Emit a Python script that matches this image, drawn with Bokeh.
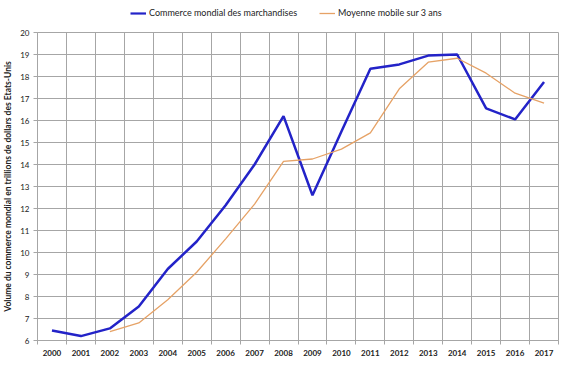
from bokeh.plotting import figure
from bokeh.layouts import column
from bokeh.models import FixedTicker, Legend, LegendItem
from bokeh.embed import file_html
from bokeh.resources import INLINE

years = list(range(2000, 2018))
commerce = [6.45, 6.2, 6.55, 7.55, 9.25, 10.5, 12.15, 14.0, 16.2, 12.6,
            15.5, 18.35, 18.55, 18.95, 19.0, 16.55, 16.05, 17.75]
ma_years = list(range(2002, 2018))
moyenne = [6.4, 6.8, 7.85, 9.1, 10.62, 12.2, 14.14, 14.25, 14.7, 15.44,
           17.44, 18.65, 18.83, 18.15, 17.24, 16.79]
y_ticks = list(range(6, 21))
series_labels = ["Commerce mondial des marchandises", "Moyenne mobile sur 3 ans"]

FONT = "Lato"
GRID = "#a6a6a6"
BLUE = "#2323c8"
ORANGE = "#e6a266"

p = figure(frame_width=521, frame_height=308, output_backend="svg",
           toolbar_location=None, x_range=(1999.5, 2017.5), y_range=(6, 20),
           min_border_left=32, min_border_top=8, min_border_right=11,
           min_border_bottom=20)

r1 = p.line(years, commerce, line_color=BLUE, line_width=2.5)
r2 = p.line(ma_years, moyenne, line_color=ORANGE, line_width=1.3)

boundaries = [y - 0.5 for y in years] + [2017.5]
p.xaxis.ticker = FixedTicker(ticks=years, minor_ticks=boundaries)
p.xgrid.ticker = FixedTicker(ticks=boundaries)
p.yaxis.ticker = FixedTicker(ticks=y_ticks)
p.xaxis.major_tick_line_color = None
p.xaxis.minor_tick_out = 4
p.xaxis.minor_tick_in = 0
p.xaxis.minor_tick_line_color = GRID
p.yaxis.major_tick_out = 4
p.yaxis.major_tick_in = 0
p.yaxis.minor_tick_line_color = None
p.yaxis.major_tick_line_color = GRID

for ax in (p.xaxis, p.yaxis):
    ax.axis_line_color = GRID
    ax.major_label_text_font = FONT
    ax.major_label_text_font_size = "8px"
    ax.major_label_text_color = "#222222"
p.xaxis.major_label_text_font_style = "bold"
p.xaxis.major_label_standoff = 3
p.yaxis.major_label_standoff = 4

p.yaxis.axis_label = "Volume du commerce mondial en trillions de dollars des Etats-Unis"
p.yaxis.axis_label_text_font = FONT
p.yaxis.axis_label_text_font_size = "8.5px"
p.yaxis.axis_label_text_font_style = "bold"
p.yaxis.axis_label_text_color = "#222222"
p.yaxis.axis_label_standoff = 4

p.xgrid.grid_line_color = GRID
p.ygrid.grid_line_color = GRID
p.outline_line_color = GRID
p.background_fill_color = "white"
p.border_fill_color = "white"

# Legend strip above the chart (series drawn out of view; only the legend shows)
top = figure(frame_width=564, frame_height=24, output_backend="svg",
             toolbar_location=None, min_border=0, x_range=(0, 1), y_range=(0, 1))
top.axis.visible = False
top.grid.visible = False
top.outline_line_color = None
l1 = top.line(years, commerce, line_color=BLUE, line_width=2.2)
l2 = top.line(ma_years, moyenne, line_color=ORANGE, line_width=1.3)
legend = Legend(items=[LegendItem(label=series_labels[0], renderers=[l1]),
                       LegendItem(label=series_labels[1], renderers=[l2])],
                orientation="horizontal", location=(130, 6),
                label_text_font=FONT, label_text_font_size="9px",
                label_text_color="#222222", glyph_width=16, glyph_height=10,
                label_standoff=3, spacing=22, padding=0, margin=0,
                border_line_color=None, background_fill_alpha=0,
                label_height=10)
top.add_layout(legend, "center")

layout = column(top, p, spacing=0)
open("out.html", "w").write(file_html(layout, INLINE))
